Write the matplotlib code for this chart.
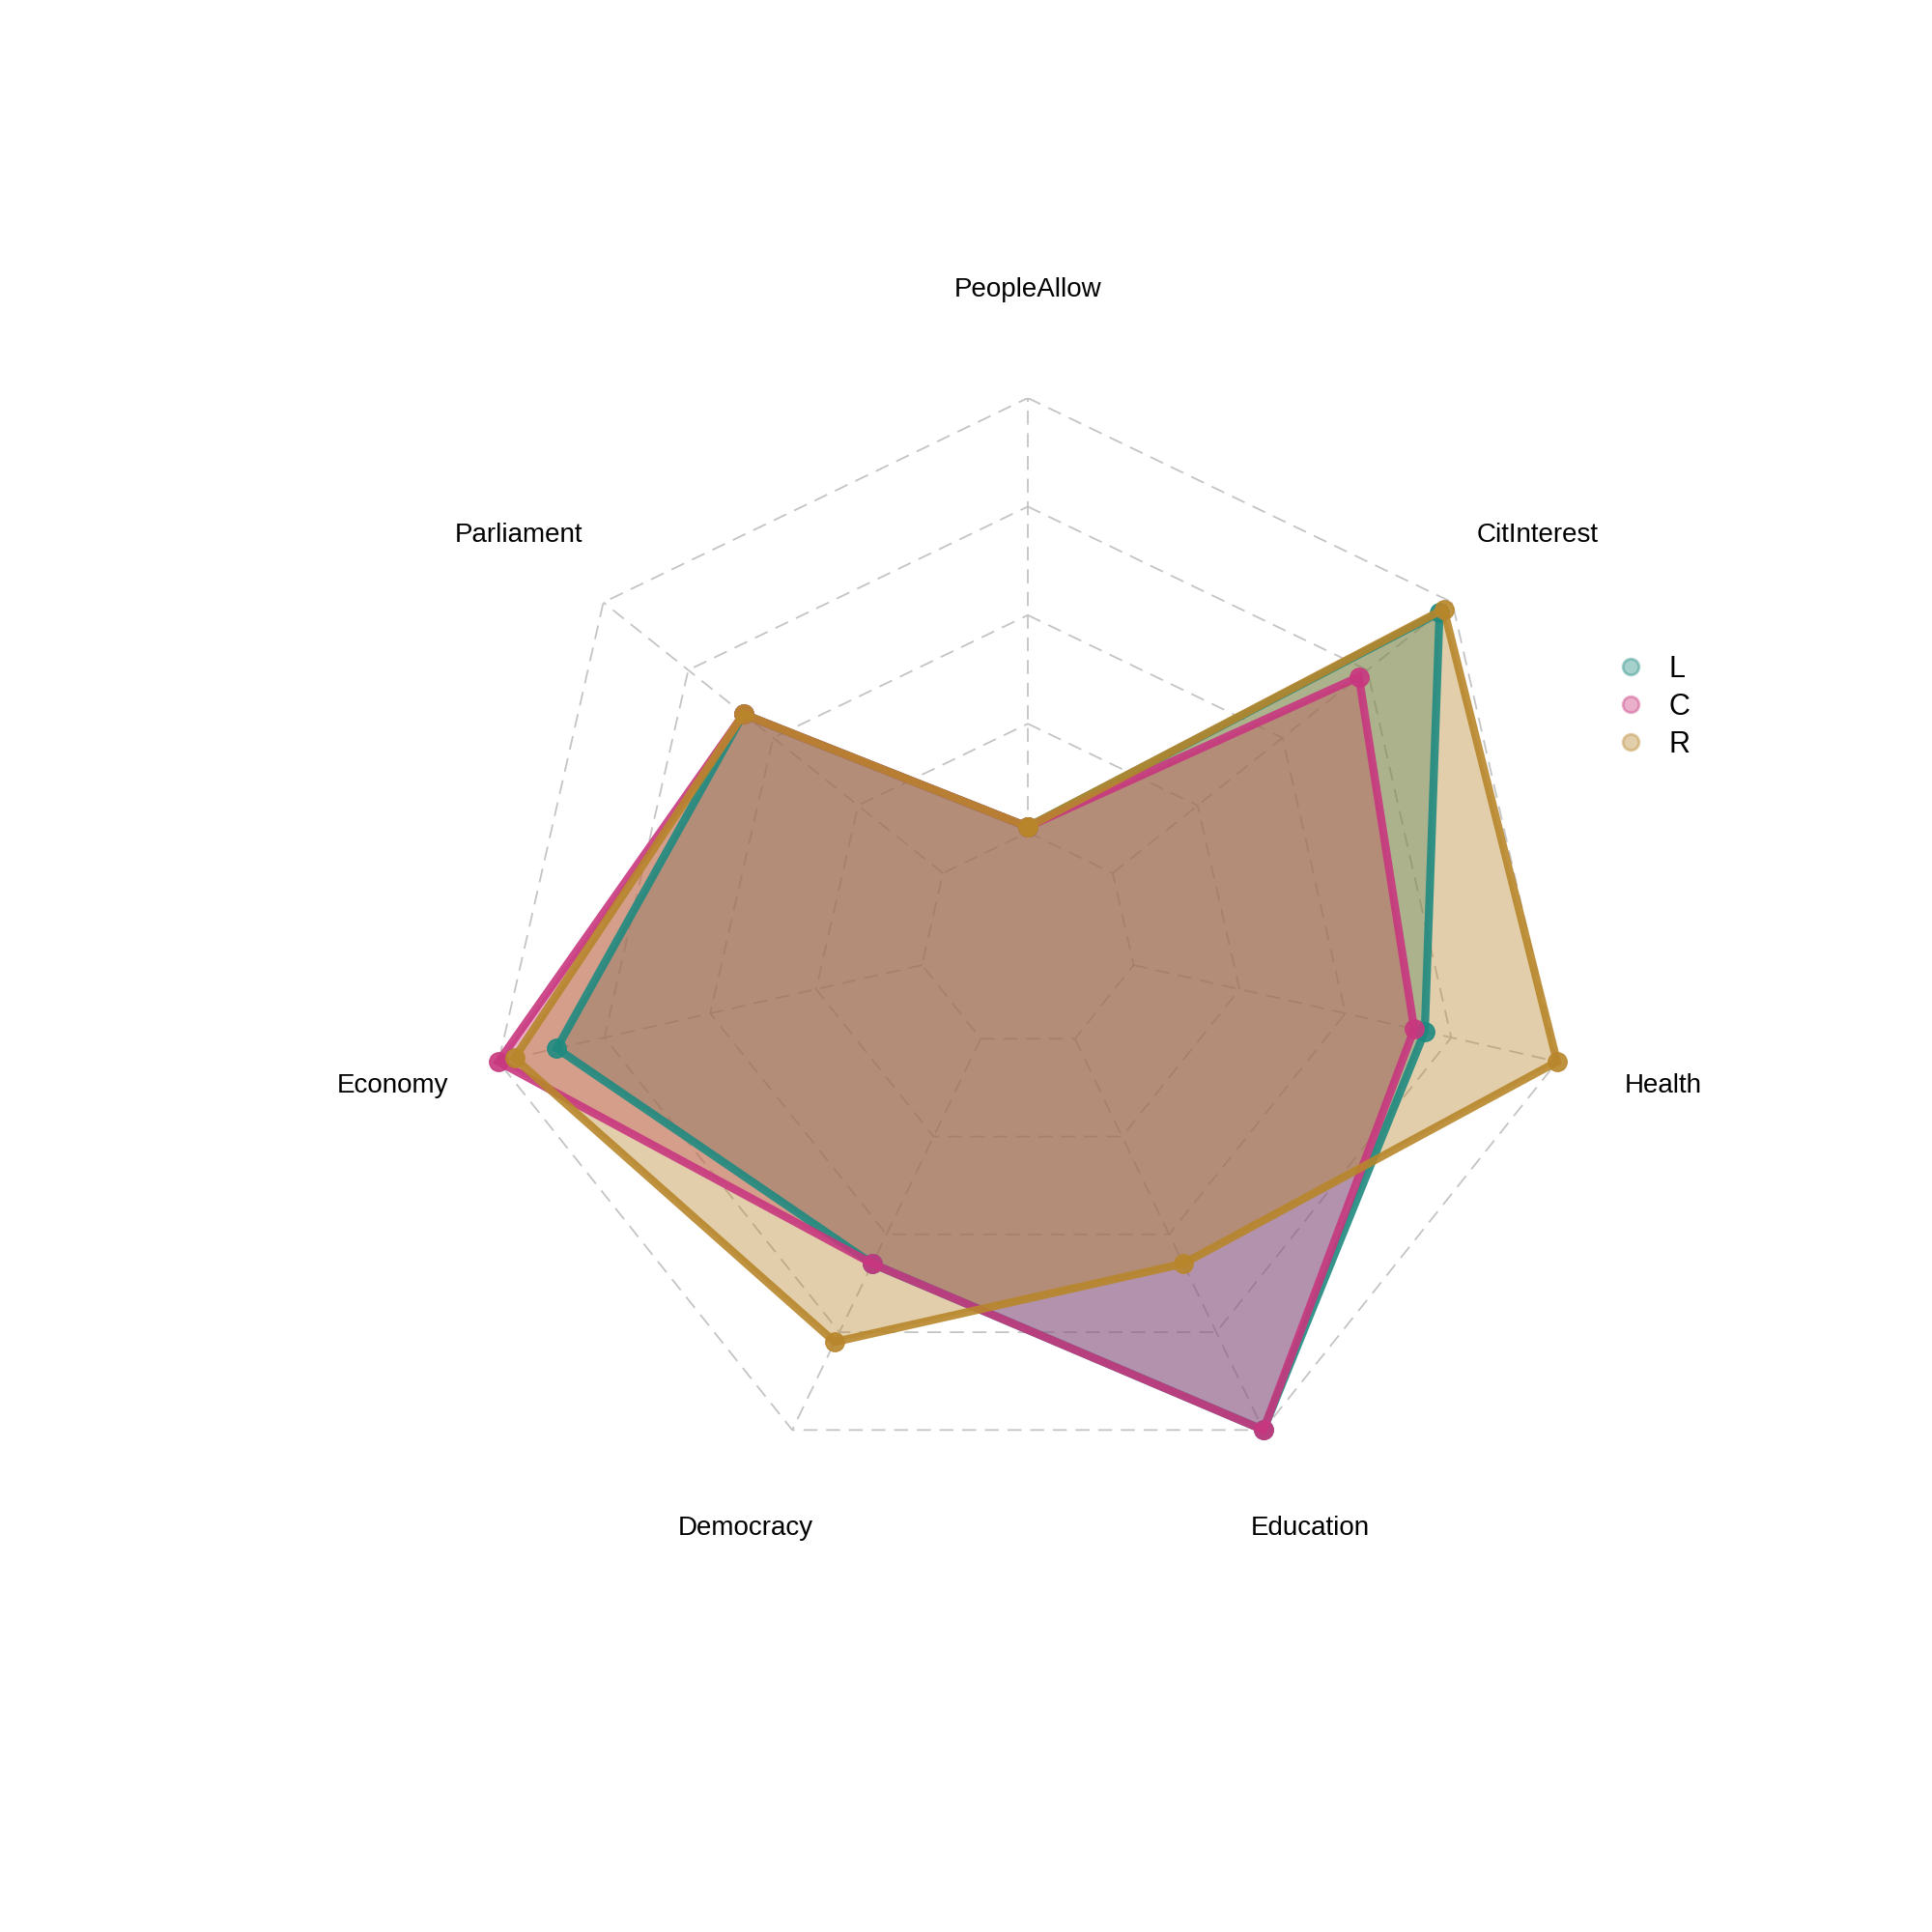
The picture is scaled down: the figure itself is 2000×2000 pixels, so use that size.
import numpy as np
import matplotlib
matplotlib.use("Agg")
from matplotlib import pyplot as plt

labels = ['PeopleAllow', 'CitInterest', 'Health', 'Education', 'Democracy', 'Economy', 'Parliament']
# values as fraction of radius (innermost ring = min)
L_vals = [0.21, 0.97, 0.75, 1.00, 0.66, 0.89, 0.67]
C_vals = [0.21, 0.78, 0.73, 1.00, 0.66, 1.00, 0.67]
R_vals = [0.21, 0.98, 1.00, 0.66, 0.82, 0.97, 0.67]
series = [('L', L_vals, '#1f8a80'), ('C', C_vals, '#c8377f'), ('R', R_vals, '#b8862b')]

n = len(labels)
ang = np.pi / 2 - np.arange(n) * 2 * np.pi / n

def xy(r):
    r = np.asarray(r)
    return r * np.cos(ang), r * np.sin(ang)

fig = plt.figure(figsize=(20, 20), dpi=100)
ax = fig.add_axes([0.251, 0.232, 0.562, 0.562])
ax.set_xlim(-1, 1)
ax.set_ylim(-1, 1)
ax.set_aspect('equal')
ax.axis('off')

# grid rings and spokes
for k in range(1, 6):
    x, y = xy(np.full(n, k / 5))
    ax.plot(np.append(x, x[0]), np.append(y, y[0]), color='#c4c4c4', lw=1.3,
            ls=(0, (8, 5)), zorder=1)
for a in ang:
    ax.plot([0.2 * np.cos(a), np.cos(a)], [0.2 * np.sin(a), np.sin(a)],
            color='#c4c4c4', lw=1.3, ls=(0, (8, 5)), zorder=1)

for name, vals, col in series:
    x, y = xy(vals)
    ax.fill(x, y, color=col, alpha=0.4, lw=0, zorder=2)
for name, vals, col in series:
    x, y = xy(vals)
    ax.plot(np.append(x, x[0]), np.append(y, y[0]), color=col, lw=6, alpha=0.9,
            marker='o', ms=14, zorder=3, solid_joinstyle='miter')

for i, lab in enumerate(labels):
    ax.text(1.2 * np.cos(ang[i]), 1.2 * np.sin(ang[i]), lab, ha='center', va='center',
            fontsize=20, family='Liberation Sans', clip_on=False)

handles = [plt.Line2D([], [], ls='', marker='o', ms=12, color=c, alpha=0.4,
                      markeredgecolor=c, markeredgewidth=2) for _, _, c in series]
fig.legend(handles, [s[0] for s in series], loc='center left',
           bbox_to_anchor=(0.815, 0.634), frameon=False, prop={'family': 'Liberation Sans', 'size': 22},
           handletextpad=0.3, labelspacing=0.3)

fig.savefig('out.png', dpi=100, facecolor='white')
